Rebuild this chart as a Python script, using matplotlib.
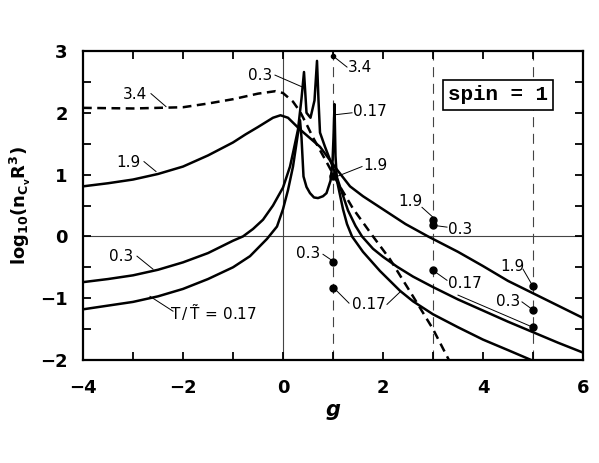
import matplotlib
matplotlib.use("Agg")
import matplotlib.pyplot as plt
from matplotlib.ticker import MultipleLocator

# curves: log10(n R^3) against g for several T / T~
g_34 = [-4, -3, -2.5, -2, -1.5, -1, -0.5, -0.15, 0.0, 0.2, 0.34, 0.48, 0.6, 0.88, 1.1, 1.4, 1.8, 2.14, 2.6, 3.0, 3.35]
n_34 = [2.08, 2.07, 2.08, 2.09, 2.15, 2.22, 2.31, 2.35, 2.32, 2.18, 2.02, 1.8, 1.6, 1.19, 0.86, 0.45, 0.0, -0.37,
        -0.97, -1.5, -2.05]

g_19 = [-4, -3.5, -3, -2.5, -2, -1.5, -1, -0.75, -0.5, -0.2, -0.05, 0.1, 0.34, 0.74, 1.08, 1.34, 1.6, 1.94, 2.45,
        2.9, 3.5, 4, 4.5, 5, 5.5, 6]
n_19 = [0.81, 0.86, 0.92, 1.01, 1.13, 1.31, 1.52, 1.65, 1.77, 1.92, 1.96, 1.92, 1.73, 1.45, 1.08, 0.81, 0.65, 0.47,
        0.2, 0.0, -0.25, -0.48, -0.72, -0.92, -1.12, -1.32]

g_03 = [-4, -3.5, -3, -2.5, -2, -1.5, -1, -0.8, -0.6, -0.4, -0.2, 0.0, 0.14, 0.2, 0.3, 0.37, 0.42, 0.47, 0.55,
        0.63, 0.68, 0.71, 0.74, 0.84, 0.94, 1.08, 1.3, 1.45, 1.58, 1.8, 2.0, 2.28, 2.6, 3, 3.5, 4, 4.5, 5, 5.5, 6]
n_03 = [-0.74, -0.69, -0.63, -0.54, -0.42, -0.27, -0.07, 0.0, 0.12, 0.27, 0.5, 0.79, 1.13, 1.35, 1.73, 2.23, 2.66,
        2.0, 1.92, 2.2, 2.84, 2.2, 1.68, 1.45, 1.24, 0.95, 0.42, 0.17, 0.0, -0.2, -0.33, -0.49, -0.65, -0.82, -1.02,
        -1.2, -1.38, -1.55, -1.72, -1.88]

g_017 = [-4, -3.5, -3, -2.5, -2, -1.5, -1, -0.66, -0.32, -0.12, 0.0, 0.1, 0.2, 0.3, 0.34, 0.37, 0.41, 0.47, 0.54,
         0.62, 0.7, 0.8, 0.87, 0.95, 0.99, 1.01, 1.03, 1.05, 1.08, 1.2, 1.28, 1.38, 1.6, 1.94, 2.34, 2.6, 3, 3.5, 4,
         4.5, 5.05]
n_017 = [-1.18, -1.12, -1.06, -0.97, -0.85, -0.69, -0.5, -0.32, -0.04, 0.16, 0.44, 0.75, 1.13, 1.67, 1.88, 1.6,
         0.97, 0.8, 0.7, 0.63, 0.62, 0.65, 0.7, 0.9, 1.2, 1.6, 2.14, 1.3, 0.9, 0.44, 0.2, 0.0, -0.25, -0.56, -0.88,
         -1.05, -1.26, -1.47, -1.67, -1.84, -2.03]

# single points at g = 1, 3, 5
dot_g = [1, 1, 1, 1, 3, 3, 3, 5, 5, 5]
dot_n = [2.92, 0.97, -0.41, -0.83, 0.26, 0.18, -0.55, -0.81, -1.19, -1.47]

# labels: text, text position, leader ends
labels = [
    ("3.4", (-2.96, 2.29), [((-2.64, 2.31), (-2.34, 2.10))]),
    ("1.9", (-3.10, 1.19), [((-2.78, 1.21), (-2.54, 1.05))]),
    ("0.3", (-3.24, -0.32), [((-2.92, -0.32), (-2.60, -0.53))]),
    ("0.3", (-0.46, 2.61), [((-0.16, 2.61), (0.38, 2.42))]),
    ("3.4", (1.54, 2.74), [((1.28, 2.74), (1.0, 2.92))]),
    ("0.17", (1.74, 2.02), [((1.38, 2.00), (1.06, 1.97))]),
    ("1.9", (1.84, 1.15), [((1.58, 1.13), (1.08, 0.97))]),
    ("1.9", (2.54, 0.56), [((2.78, 0.47), (3.0, 0.31))]),
    ("0.3", (3.54, 0.11), [((3.28, 0.15), (3.0, 0.18))]),
    ("0.3", (0.50, -0.27), [((0.80, -0.29), (1.0, -0.40))]),
    ("0.17", (1.72, -1.11), [((1.32, -1.08), (1.0, -0.82)), ((2.08, -1.10), (2.34, -0.90))]),
    ("0.17", (3.64, -0.77), [((3.28, -0.71), (3.0, -0.55)), ((3.50, -0.95), (4.94, -1.45))]),
    ("1.9", (4.58, -0.48), [((4.80, -0.53), (5.0, -0.81))]),
    ("0.3", (4.50, -1.05), [((4.78, -1.06), (5.0, -1.19))]),
]

fig = plt.figure(figsize=(5.99, 4.63), dpi=100)
ax = fig.add_axes([83 / 599, 1 - 360 / 463, 500 / 599, 309 / 463])

ax.axvline(0, color="#444444", lw=0.8, zorder=1)
ax.axhline(0, color="#444444", lw=0.8, zorder=1)
for gv in [1, 3, 5]:
    ax.axvline(gv, color="#444444", lw=0.8, ls=(0, (9, 6)), zorder=1)

ax.plot(g_34, n_34, color="black", lw=1.8, ls=(0, (3.5, 2.2)), zorder=3)
ax.plot(g_19, n_19, color="black", lw=1.8, zorder=3)
ax.plot(g_03, n_03, color="black", lw=1.8, zorder=3)
ax.plot(g_017, n_017, color="black", lw=1.8, zorder=3)
ax.plot(dot_g[:1], dot_n[:1], "o", color="black", ms=3, zorder=4)
ax.plot(dot_g[1:], dot_n[1:], "o", color="black", ms=5, zorder=4)

for txt, pos, leaders in labels:
    ax.text(pos[0], pos[1], txt, fontsize=11, ha="center", va="center", zorder=5)
    for a, b in leaders:
        ax.plot([a[0], b[0]], [a[1], b[1]], color="black", lw=0.7, zorder=4)

ax.text(-1.38, -1.24, r"$\mathrm{T\,/\,\tilde{T}\,=\,0.17}$", fontsize=11, ha="center", va="center")
ax.plot([-2.2, -2.66], [-1.21, -0.97], color="black", lw=0.7)

ax.text(4.3, 2.29, "spin = 1", fontsize=15, family="Liberation Mono", weight="bold",
        ha="center", va="center",
        bbox=dict(boxstyle="square,pad=0.25", facecolor="white", edgecolor="black", lw=1.2))

ax.set_xlim(-4, 6)
ax.set_ylim(-2, 3)
ax.xaxis.set_major_locator(MultipleLocator(2))
ax.xaxis.set_minor_locator(MultipleLocator(1))
ax.yaxis.set_major_locator(MultipleLocator(1))
ax.yaxis.set_minor_locator(MultipleLocator(0.5))
ax.tick_params(which="both", direction="in", top=True, right=True, length=6, width=1.3)
ax.tick_params(axis="x", pad=14, labelsize=13)
ax.tick_params(axis="y", pad=11, labelsize=13)
for lab in ax.get_xticklabels() + ax.get_yticklabels():
    lab.set_fontweight("bold")
for sp in ax.spines.values():
    sp.set_linewidth(1.6)

ax.set_xlabel("g", fontsize=15, fontweight="bold", fontstyle="italic", labelpad=2)
ax.set_ylabel(r"$\mathbf{log_{10}(n_{C_v}R^3)}$", fontsize=13)
ax.yaxis.set_label_coords(-0.1, 0.5)

plt.savefig("out.png", dpi=100)
